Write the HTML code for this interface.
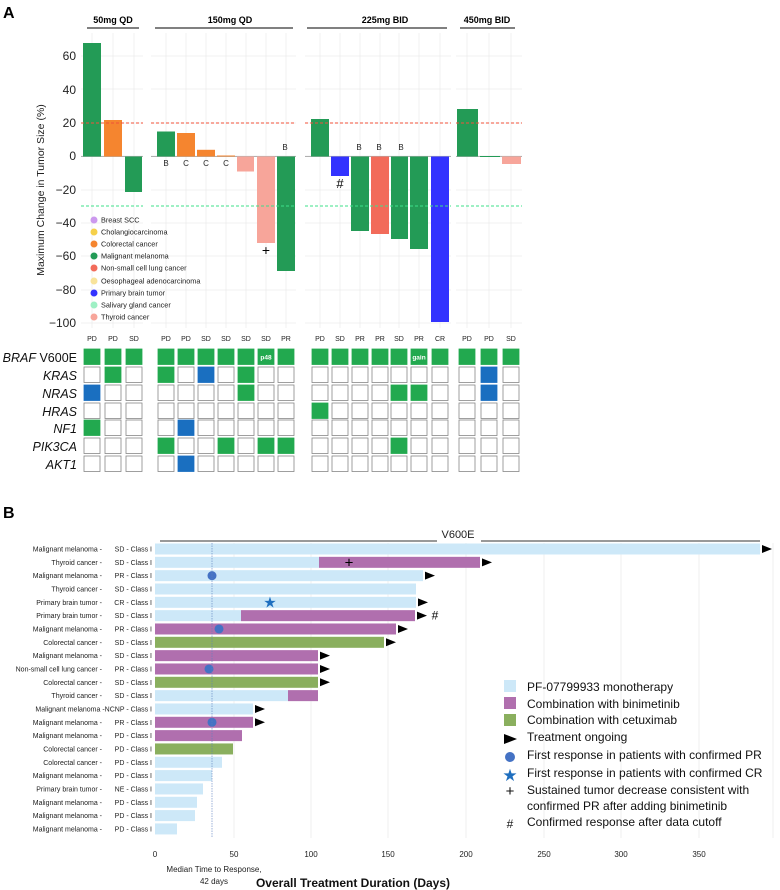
<!DOCTYPE html>
<html><head><meta charset="utf-8"><style>
html,body{margin:0;padding:0;background:#fff}
svg{display:block;font-family:"Liberation Sans",Arial,sans-serif}
</style></head><body>
<svg width="780" height="890" viewBox="0 0 780 890" xmlns="http://www.w3.org/2000/svg">
<text x="3" y="18" font-size="16" font-weight="bold">A</text>
<g font-size="9" font-weight="bold" text-anchor="middle">
<text x="113" y="23">50mg QD</text><line x1="87" y1="28" x2="139" y2="28" stroke="#000" stroke-width="1"/>
<text x="230" y="23">150mg QD</text><line x1="155" y1="28" x2="293" y2="28" stroke="#000"/>
<text x="385" y="23">225mg BID</text><line x1="307" y1="28" x2="447" y2="28" stroke="#000"/>
<text x="487" y="23">450mg BID</text><line x1="460" y1="28" x2="515" y2="28" stroke="#000"/>
</g>
<g stroke="#ebebeb" stroke-width="0.7">
<path d="M81 56H143M81 89H143M81 123H143M81 156H143M81 190H143M81 223H143M81 256H143M81 290H143M81 323H143"/>
<path d="M151 56H296M151 89H296M151 123H296M151 156H296M151 190H296M151 223H296M151 256H296M151 290H296M151 323H296"/>
<path d="M305 56H451M305 89H451M305 123H451M305 156H451M305 190H451M305 223H451M305 256H451M305 290H451M305 323H451"/>
<path d="M456 56H522M456 89H522M456 123H522M456 156H522M456 190H522M456 223H522M456 256H522M456 290H522M456 323H522"/>
<path d="M92 33V328M113 33V328M134 33V328M166 33V328M186 33V328M206 33V328M226 33V328M246 33V328M266 33V328M286 33V328M320 33V328M340 33V328M360 33V328M380 33V328M399 33V328M419 33V328M440 33V328M467 33V328M489 33V328M511 33V328"/>
</g>
<g font-size="12" text-anchor="end" fill="#222">
<text x="76" y="60">60</text><text x="76" y="94">40</text><text x="76" y="127">20</text><text x="76" y="160">0</text>
<text x="76" y="194">−20</text><text x="76" y="227">−40</text><text x="76" y="260">−60</text><text x="76" y="294">−80</text><text x="76" y="327">−100</text>
</g>
<text transform="translate(44,190) rotate(-90)" font-size="10.5" text-anchor="middle" fill="#222">Maximum Change in Tumor Size (%)</text>
<g stroke="#999" stroke-width="0.7"><path d="M81 156.5H143M151 156.5H296M305 156.5H451M456 156.5H522"/></g>
<g>
<rect x="83" y="43" width="18" height="113.5" fill="#239b56"/>
<rect x="104" y="120" width="18" height="36.5" fill="#f5852f"/>
<rect x="125" y="156.5" width="17" height="35.5" fill="#239b56"/>
<rect x="157" y="131.5" width="18" height="25" fill="#239b56"/>
<rect x="177" y="133" width="18" height="23.5" fill="#f5852f"/>
<rect x="197" y="149.8" width="18" height="6.7" fill="#f5852f"/>
<rect x="217" y="155.5" width="18" height="1" fill="#f5852f"/>
<rect x="237" y="156.5" width="17" height="15" fill="#f7a59a"/>
<rect x="257" y="156.5" width="18" height="86.5" fill="#f7a59a"/>
<rect x="277" y="156.5" width="18" height="114.5" fill="#239b56"/>
<rect x="311" y="119" width="18" height="37.5" fill="#239b56"/>
<rect x="331" y="156.5" width="18" height="19.5" fill="#3333ff"/>
<rect x="351" y="156.5" width="18" height="74.5" fill="#239b56"/>
<rect x="371" y="156.5" width="18" height="77.5" fill="#f26b5a"/>
<rect x="391" y="156.5" width="17" height="82.5" fill="#239b56"/>
<rect x="410" y="156.5" width="18" height="92.5" fill="#239b56"/>
<rect x="431" y="156.5" width="18" height="165.5" fill="#3333ff"/>
<rect x="457" y="109" width="21" height="47.5" fill="#239b56"/>
<rect x="480" y="156" width="20" height="1" fill="#239b56"/>
<rect x="502" y="156.5" width="19" height="7.5" fill="#f7a59a"/>
</g>
<g stroke-dasharray="3,2" stroke-width="1">
<path d="M81 123H143M151 123H296M305 123H451M456 123H522" stroke="#f0513a"/>
<path d="M81 206H143M151 206H296M305 206H451M456 206H522" stroke="#3ee08a"/>
</g>
<g font-size="8" text-anchor="middle" fill="#222">
<text x="166" y="166">B</text><text x="186" y="166">C</text><text x="206" y="166">C</text><text x="226" y="166">C</text><text x="285" y="150">B</text>
<text x="359" y="150">B</text><text x="379" y="150">B</text><text x="401" y="150">B</text>
</g>
<text x="266" y="255" font-size="14" text-anchor="middle">+</text>
<text x="340" y="188" font-size="13" text-anchor="middle">#</text>
<g font-size="7.3" fill="#222">
<circle cx="94" cy="220" r="3.5" fill="#cc99ee"/><text x="101" y="222.5">Breast SCC</text>
<circle cx="94" cy="232" r="3.5" fill="#f5d04a"/><text x="101" y="234.5">Cholangiocarcinoma</text>
<circle cx="94" cy="244" r="3.5" fill="#f5852f"/><text x="101" y="246.5">Colorectal cancer</text>
<circle cx="94" cy="256" r="3.5" fill="#239b56"/><text x="101" y="258.5">Malignant melanoma</text>
<circle cx="94" cy="268" r="3.5" fill="#f26b5a"/><text x="101" y="270.5">Non-small cell lung cancer</text>
<circle cx="94" cy="281" r="3.5" fill="#f8e39a"/><text x="101" y="283.5">Oesophageal adenocarcinoma</text>
<circle cx="94" cy="293" r="3.5" fill="#3333ff"/><text x="101" y="295.5">Primary brain tumor</text>
<circle cx="94" cy="305" r="3.5" fill="#9ef0c4"/><text x="101" y="307.5">Salivary gland cancer</text>
<circle cx="94" cy="317" r="3.5" fill="#f7a59a"/><text x="101" y="319.5">Thyroid cancer</text>
</g>
<g font-size="7" text-anchor="middle" fill="#222">
<text x="92" y="341">PD</text><text x="113" y="341">PD</text><text x="134" y="341">SD</text>
<text x="166" y="341">PD</text><text x="186" y="341">PD</text><text x="206" y="341">SD</text><text x="226" y="341">SD</text><text x="246" y="341">SD</text><text x="266" y="341">SD</text><text x="286" y="341">PR</text>
<text x="320" y="341">PD</text><text x="340" y="341">SD</text><text x="360" y="341">PR</text><text x="380" y="341">PR</text><text x="399" y="341">SD</text><text x="419" y="341">PR</text><text x="440" y="341">CR</text>
<text x="467" y="341">PD</text><text x="489" y="341">PD</text><text x="511" y="341">SD</text>
</g>
<g font-size="12.5" text-anchor="end" fill="#111">
<text x="77" y="362"><tspan font-style="italic">BRAF</tspan> V600E</text>
<text x="77" y="380" font-style="italic">KRAS</text>
<text x="77" y="398" font-style="italic">NRAS</text>
<text x="77" y="416" font-style="italic">HRAS</text>
<text x="77" y="433" font-style="italic">NF1</text>
<text x="77" y="451" font-style="italic">PIK3CA</text>
<text x="77" y="469" font-style="italic">AKT1</text>
</g>
<g id="grid" stroke="#888" stroke-width="0.8" fill="#fff"></g>
<g font-size="6.5" fill="#fff" font-weight="bold" text-anchor="middle"><text x="266" y="359.5">p48</text><text x="419" y="359.5">gain</text></g>
<text x="3" y="518" font-size="16" font-weight="bold">B</text>
<line x1="160" y1="541" x2="437" y2="541" stroke="#333"/>
<line x1="481" y1="541" x2="760" y2="541" stroke="#333"/>
<text x="458" y="538" font-size="11" text-anchor="middle" fill="#222">V600E</text>
<g stroke="#ebebeb" stroke-width="0.8"><path d="M234 543V838M311 543V838M388 543V838M466 543V838M544 543V838M621 543V838M699 543V838M773 543V838"/></g>
<g id="rows"></g>
<line x1="212" y1="543" x2="212" y2="838" stroke="#5b7fbf" stroke-width="0.6" stroke-dasharray="1.5,1"/>
<g font-size="8" text-anchor="middle" fill="#222">
<text x="155" y="857">0</text><text x="234" y="857">50</text><text x="311" y="857">100</text><text x="388" y="857">150</text><text x="466" y="857">200</text><text x="544" y="857">250</text><text x="621" y="857">300</text><text x="699" y="857">350</text>
<text x="214" y="872">Median Time to Response,</text><text x="214" y="884">42 days</text>
</g>
<text x="353" y="887" font-size="12" font-weight="bold" text-anchor="middle" fill="#111">Overall Treatment Duration (Days)</text>
<g font-size="12" fill="#111">
<rect x="504" y="680" width="12" height="12" fill="#cde8f8"/><text x="527" y="691">PF-07799933 monotherapy</text>
<rect x="504" y="697" width="12" height="12" fill="#b06fae"/><text x="527" y="708">Combination with binimetinib</text>
<rect x="504" y="714" width="12" height="12" fill="#8aaf5e"/><text x="527" y="724">Combination with cetuximab</text>
<path d="M504 734L517 739L504 744Z" fill="#000"/><text x="527" y="741">Treatment ongoing</text>
<circle cx="510" cy="757" r="5" fill="#4472c4"/><text x="527" y="759">First response in patients with confirmed PR</text>
<text x="510" y="781" font-size="17" fill="#1f6fbf" text-anchor="middle">★</text><text x="527" y="777">First response in patients with confirmed CR</text>
<text x="510" y="796" font-size="15" text-anchor="middle">+</text><text x="527" y="794">Sustained tumor decrease consistent with</text><text x="527" y="810">confirmed PR after adding binimetinib</text>
<text x="510" y="828" font-size="12" text-anchor="middle">#</text><text x="527" y="826">Confirmed response after data cutoff</text>
</g>
</svg>
<script>
(function(){
var NS="http://www.w3.org/2000/svg";
function el(p,t,a,txt){var e=document.createElementNS(NS,t);for(var k in a)e.setAttribute(k,a[k]);if(txt!=null)e.textContent=txt;p.appendChild(e);return e;}
var g=document.getElementById("grid");
var cols=[92,113,134,166,186,206,226,246,266,286,320,340,360,380,399,419,440,467,489,511];
var rowsY=[349,367,385,403,420,438,456];
var G="#22a94f",B="#1a6fc0";
var M={};
function s(r,c,col){M[r+"_"+c]=col;}
for(var c=0;c<20;c++)s(0,c,G);
s(1,1,G);s(2,0,B);s(4,0,G);
s(1,3,G);s(1,5,B);s(1,7,G);s(2,7,G);s(4,4,B);s(5,3,G);s(5,6,G);s(5,8,G);s(5,9,G);s(6,4,B);
s(2,14,G);s(2,15,G);s(3,10,G);s(5,14,G);
s(1,18,B);s(2,18,B);
for(var r=0;r<7;r++)for(var c=0;c<20;c++){var f=M[r+"_"+c];
el(g,"rect",{x:cols[c]-8,y:rowsY[r],width:16,height:15.5,fill:f||"#fff",stroke:f?f:"#888"});}
var R=document.getElementById("rows");
var mono="#cde8f8",pur="#b06fae",grn="#8aaf5e";
var data=[
["Malignant melanoma -","SD",[[mono,760]],1],
["Thyroid cancer -","SD",[[mono,319],[pur,480]],1,{plus:349}],
["Malignant melanoma -","PR",[[mono,423]],1,{c:212}],
["Thyroid cancer -","SD",[[mono,416]],0],
["Primary brain tumor -","CR",[[mono,416]],1,{star:270}],
["Primary brain tumor -","SD",[[mono,241],[pur,415]],1,{hash:435}],
["Malignant melanoma -","PR",[[pur,396]],1,{c:219}],
["Colorectal cancer -","SD",[[grn,384]],1],
["Malignant melanoma -","SD",[[pur,318]],1],
["Non-small cell lung cancer -","PR",[[pur,318]],1,{c:209}],
["Colorectal cancer -","SD",[[grn,318]],1],
["Thyroid cancer -","SD",[[mono,288],[pur,318]],0],
["Malignant melanoma -","NCNP",[[mono,253]],1],
["Malignant melanoma -","PR",[[pur,253]],1,{c:212}],
["Malignant melanoma -","PD",[[pur,242]],0],
["Colorectal cancer -","PD",[[grn,233]],0],
["Colorectal cancer -","PD",[[mono,222]],0],
["Malignant melanoma -","PD",[[mono,212]],0],
["Primary brain tumor -","NE",[[mono,203]],0],
["Malignant melanoma -","PD",[[mono,197]],0],
["Malignant melanoma -","PD",[[mono,195]],0],
["Malignant melanoma -","PD",[[mono,177]],0]];
data.forEach(function(d,i){var y=549+i*13.33;
if(d[1]=="NCNP"){el(R,"text",{x:152,y:y+2.5,"font-size":7,"text-anchor":"end",fill:"#222"},"Malignant melanoma -NCNP - Class I");}
else{el(R,"text",{x:102,y:y+2.5,"font-size":7,"text-anchor":"end",fill:"#222"},d[0]);
el(R,"text",{x:152,y:y+2.5,"font-size":7,"text-anchor":"end",fill:"#222"},d[1]+" - Class I");}
var x0=155;d[2].forEach(function(sg){el(R,"rect",{x:x0,y:y-5.5,width:sg[1]-x0,height:11,fill:sg[0]});x0=sg[1];});
if(d[3])el(R,"path",{d:"M"+(x0+2)+" "+(y-4)+"L"+(x0+12)+" "+y+"L"+(x0+2)+" "+(y+4)+"Z",fill:"#000"});
var o=d[4]||{};
if(o.c)el(R,"circle",{cx:o.c,cy:y,r:4.5,fill:"#4472c4"});
if(o.star)el(R,"text",{x:o.star,y:y+5,"font-size":15,fill:"#1f6fbf","text-anchor":"middle"},"★");
if(o.plus)el(R,"text",{x:o.plus,y:y+5,"font-size":15,"text-anchor":"middle"},"+");
if(o.hash)el(R,"text",{x:o.hash,y:y+4,"font-size":12,"text-anchor":"middle"},"#");
});
})();
</script>
</body></html>
